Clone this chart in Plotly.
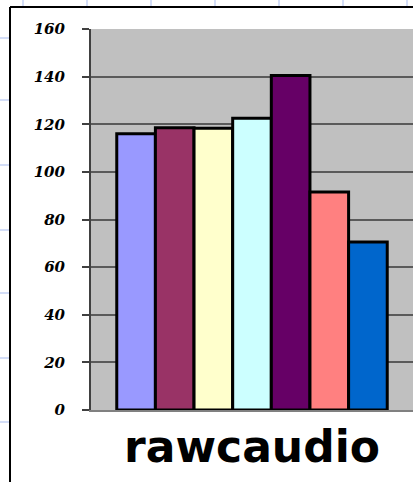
import plotly.graph_objects as go

categories = ["rawcaudio"]
series_names = ["Series 1", "Series 2", "Series 3", "Series 4", "Series 5", "Series 6", "Series 7"]
values = [116, 118.5, 118.3, 122.5, 140.5, 91.5, 70.5]
colors = ["#9999FF", "#993366", "#FFFFCC", "#CCFFFF", "#660066", "#FF8080", "#0066CC"]
y_ticks = [0, 20, 40, 60, 80, 100, 120, 140, 160]

W, H = 413, 482
ML, MR, MT, MB = 91, 0, 29, 72
pw, ph = W - ML - MR, H - MT - MB

def px(x):
    return (x - ML) / pw

def py(y):
    return (H - MB - y) / ph

fig = go.Figure()
for name, v, c in zip(series_names, values, colors):
    fig.add_trace(go.Bar(
        x=categories, y=[v], name=name,
        marker=dict(color=c, line=dict(color="#000000", width=3)),
    ))

shapes = []
grid_blue = "#D3DDF7"
# spreadsheet grid outside chart frame
for gx in [23, 87, 151, 215, 279, 343, 407]:
    shapes.append(dict(type="line", xref="paper", yref="paper",
                       x0=px(gx), x1=px(gx), y0=py(0), y1=py(6),
                       line=dict(color=grid_blue, width=2)))
for gy in [38, 100, 165, 230, 293, 358, 422]:
    shapes.append(dict(type="line", xref="paper", yref="paper",
                       x0=px(0), x1=px(9), y0=py(gy), y1=py(gy),
                       line=dict(color=grid_blue, width=2)))
# chart frame
shapes.append(dict(type="line", xref="paper", yref="paper",
                   x0=px(10), x1=px(10), y0=py(7), y1=py(H + 5),
                   line=dict(color="#000000", width=2)))
shapes.append(dict(type="line", xref="paper", yref="paper",
                   x0=px(10), x1=px(W + 5), y0=py(7), y1=py(7),
                   line=dict(color="#000000", width=2)))

fig.update_layout(
    width=W, height=H,
    margin=dict(l=ML, r=MR, t=MT, b=MB, pad=0),
    paper_bgcolor="#FFFFFF",
    plot_bgcolor="#C0C0C0",
    barmode="group",
    bargap=0.16,
    bargroupgap=0,
    showlegend=False,
    shapes=shapes,
    xaxis=dict(
        type="category", range=[-0.5, 0.5],
        showgrid=False, zeroline=False,
        showline=True, linecolor="#808080", linewidth=2,
        ticks="",
        ticklabelstandoff=-3,
        tickfont=dict(family="DejaVu Sans", size=44, color="#000000", weight="bold"),
    ),
    yaxis=dict(
        range=[0, 160], tickvals=y_ticks, ticktext=[str(t) for t in y_ticks],
        showgrid=True, gridcolor="#5A5A5A", gridwidth=2,
        zeroline=False,
        showline=True, linecolor="#404040", linewidth=2,
        ticks="outside", ticklen=7, tickwidth=2, tickcolor="#404040",
        ticklabelstandoff=14,
        tickfont=dict(family="DejaVu Serif", size=15, color="#000000", style="italic", weight="bold"),
    ),
)

fig.write_html("out.html")
